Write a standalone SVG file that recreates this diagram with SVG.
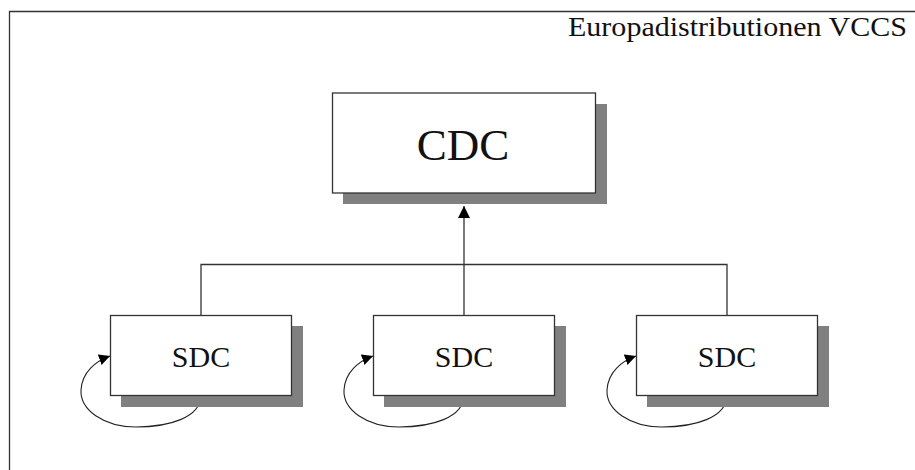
<svg xmlns="http://www.w3.org/2000/svg" width="915" height="470" viewBox="0 0 915 470">
  <style>
    .frame { fill: none; stroke: #333; stroke-width: 1.3; }
    .box { fill: #fff; stroke: #333; stroke-width: 1.3; }
    .shadow { fill: #808080; stroke: none; }
    .lbl { font-family: "Liberation Serif", "Times New Roman", serif; fill: #111; text-anchor: middle; }
    .title { font-family: "Liberation Serif", "Times New Roman", serif; fill: #111; }
    .wire { fill: none; stroke: #333; stroke-width: 1.3; }
    .loop { fill: none; stroke: #222; stroke-width: 1.1; }
  </style>
  <defs>
    <marker id="tri" viewBox="0 0 10 10" refX="10" refY="5" markerWidth="11" markerHeight="11" markerUnits="userSpaceOnUse" orient="auto">
      <path d="M0,0 L10,5 L0,10 Z" fill="#000"/>
    </marker>
    <marker id="tri2" viewBox="0 0 10 10" refX="10" refY="5" markerWidth="12" markerHeight="12" markerUnits="userSpaceOnUse" orient="auto">
      <path d="M0,0 L10,5 L0,10 Z" fill="#000"/>
    </marker>
  </defs>
  <rect width="915" height="470" fill="#fff"/>

  <!-- outer frame: top and left edges only -->
  <path class="frame" d="M9.5,470 L9.5,11.5 L915,11.5"/>
  <text class="title" x="568" y="36" font-size="27" textLength="339" lengthAdjust="spacingAndGlyphs">Europadistributionen VCCS</text>

  <!-- connectors -->
  <g id="connectors">
    <path class="wire" d="M201,315 L201,264.5 L727,264.5 L727,315"/>
    <path class="wire" d="M464,315 L464,264.5"/>
    <path class="wire" d="M464,264.5 L464,206" marker-end="url(#tri2)"/>
    <path class="loop" d="M201,395 C201,418 168,427 136,427 C104,427 80,410 81,390 C82,372 96,361 110,356" marker-end="url(#tri)"/>
    <path class="loop" d="M464,395 C464,418 431,427 399,427 C367,427 343,410 344,390 C345,372 359,361 373,356" marker-end="url(#tri)"/>
    <path class="loop" d="M727,395 C727,418 694,427 662,427 C630,427 606,410 607,390 C608,372 622,361 636,356" marker-end="url(#tri)"/>
  </g>

  <g id="cdc">
    <rect class="shadow" x="343" y="104" width="264" height="100"/>
    <rect class="box" x="332.5" y="93" width="263" height="100"/>
    <text class="lbl" x="463" y="160" font-size="45">CDC</text>
  </g>

  <g id="sdc1">
    <rect class="shadow" x="121" y="326" width="182" height="81"/>
    <rect class="box" x="110.5" y="315.5" width="181" height="80"/>
    <text class="lbl" x="201" y="367" font-size="30">SDC</text>
  </g>

  <g id="sdc2">
    <rect class="shadow" x="384" y="326" width="182" height="81"/>
    <rect class="box" x="373.5" y="315.5" width="181" height="80"/>
    <text class="lbl" x="464" y="367" font-size="30">SDC</text>
  </g>

  <g id="sdc3">
    <rect class="shadow" x="647" y="326" width="182" height="81"/>
    <rect class="box" x="636.5" y="315.5" width="181" height="80"/>
    <text class="lbl" x="727" y="367" font-size="30">SDC</text>
  </g>
</svg>
